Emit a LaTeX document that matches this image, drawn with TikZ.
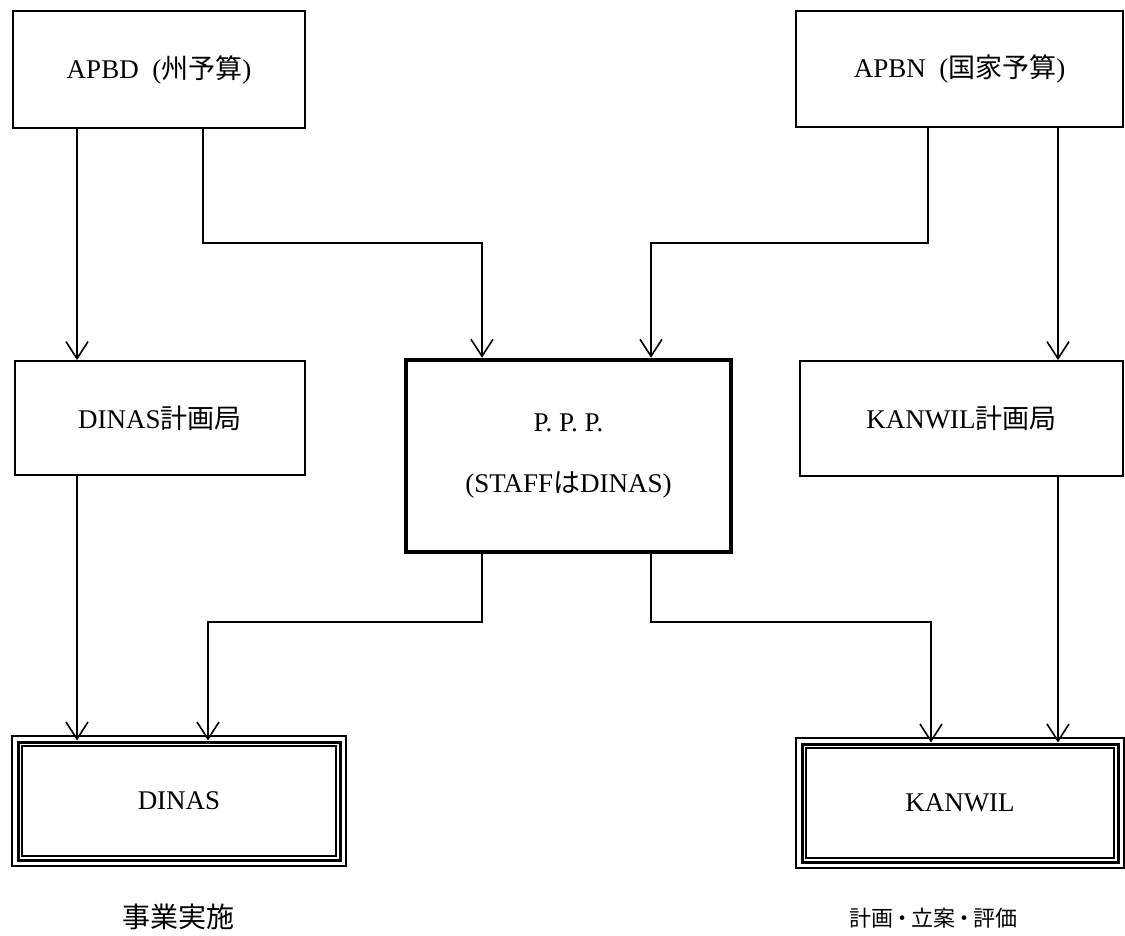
\documentclass[tikz,border=0pt]{standalone}
\usepackage{fontspec}
\setmainfont{Liberation Serif}
\newfontfamily\cjk{Noto Sans CJK JP}
\usetikzlibrary{arrows.meta}
\tikzset{
  box/.style={draw, line width=1.8pt, inner sep=0pt, align=center,
    font=\fontsize{27}{32}\selectfont},
  pppbox/.style={box, line width=4.5pt},
  outbox/.style={box, line width=3pt},
  thinrule/.style={line width=1.7pt},
  conn/.style={line width=2pt, -{Straight Barb[length=17pt, width=22pt, line width=1.6pt]}},
  note/.style={font=\fontsize{28}{33}\selectfont\cjk}
}
\begin{document}
\begin{tikzpicture}[x=1pt, y=-1pt]
\useasboundingbox (0,0) rectangle (1125,936);
\fill[white] (0,0) rectangle (1125,936);

% top row
\node[box, minimum width=292pt, minimum height=117pt] (apbd) at (159,69.5)
  {APBD\ \ (\cjk 州予算\rmfamily)};
\node[box, minimum width=327pt, minimum height=116pt] (apbn) at (959.5,69)
  {APBN\ \ (\cjk 国家予算\rmfamily)};

% middle row
\node[box, minimum width=290pt, minimum height=114pt] (dinasP) at (160,418)
  {DINAS{\cjk 計画局}};
\node[pppbox, minimum width=325pt, minimum height=192pt] (ppp) at (568.5,456)
  {P. P. P.\\[29pt](STAFF{\cjk は}DINAS)};
\node[box, minimum width=323pt, minimum height=115pt] (kanwilP) at (961.5,418.5)
  {KANWIL{\cjk 計画局}};

% bottom row (triple border)
\node[outbox, minimum width=322pt, minimum height=118pt] (dinas) at (179,801) {DINAS};
\node[outbox, minimum width=316pt, minimum height=118pt] (kanwil) at (960,803) {KANWIL};
\foreach \n in {dinas,kanwil}{
  \draw[thinrule] ([shift={(-4.2,-4.2)}]\n.north west) rectangle ([shift={(4.2,4.2)}]\n.south east);
  \draw[thinrule] ([shift={(5.2,5.2)}]\n.north west) rectangle ([shift={(-5.2,-5.2)}]\n.south east);
}

% captions
\node[note] (capL) at (178,917) {事業実施};
\node[note, font=\fontsize{22}{27}\selectfont\cjk] (capR) at (933,918)
  {計画\kern-2pt・\kern-2pt立案\kern-2pt・\kern-2pt評価};

% routing coordinates
\coordinate (cA) at (77,0);
\coordinate (cB) at (203,0);
\coordinate (cC) at (482,0);
\coordinate (cD) at (651,0);
\coordinate (cE) at (928,0);
\coordinate (cF) at (1058,0);
\coordinate (cG) at (208,0);
\coordinate (cH) at (931,0);
\coordinate (yU) at (0,243);
\coordinate (yL) at (0,622);

% connectors
\draw[conn] (apbd.south -| cA) -- (dinasP.north -| cA);
\draw[conn] (apbd.south -| cB) -- (cB |- yU) -- (cC |- yU) -- (ppp.north -| cC);
\draw[conn] (apbn.south -| cE) -- (cE |- yU) -- (cD |- yU) -- (ppp.north -| cD);
\draw[conn] (apbn.south -| cF) -- (kanwilP.north -| cF);
\draw[conn] (dinasP.south -| cA) -- (dinas.north -| cA);
\draw[conn] (ppp.south -| cC) -- (cC |- yL) -- (cG |- yL) -- (dinas.north -| cG);
\draw[conn] (ppp.south -| cD) -- (cD |- yL) -- (cH |- yL) -- (kanwil.north -| cH);
\draw[conn] (kanwilP.south -| cF) -- (kanwil.north -| cF);
\end{tikzpicture}
\end{document}
